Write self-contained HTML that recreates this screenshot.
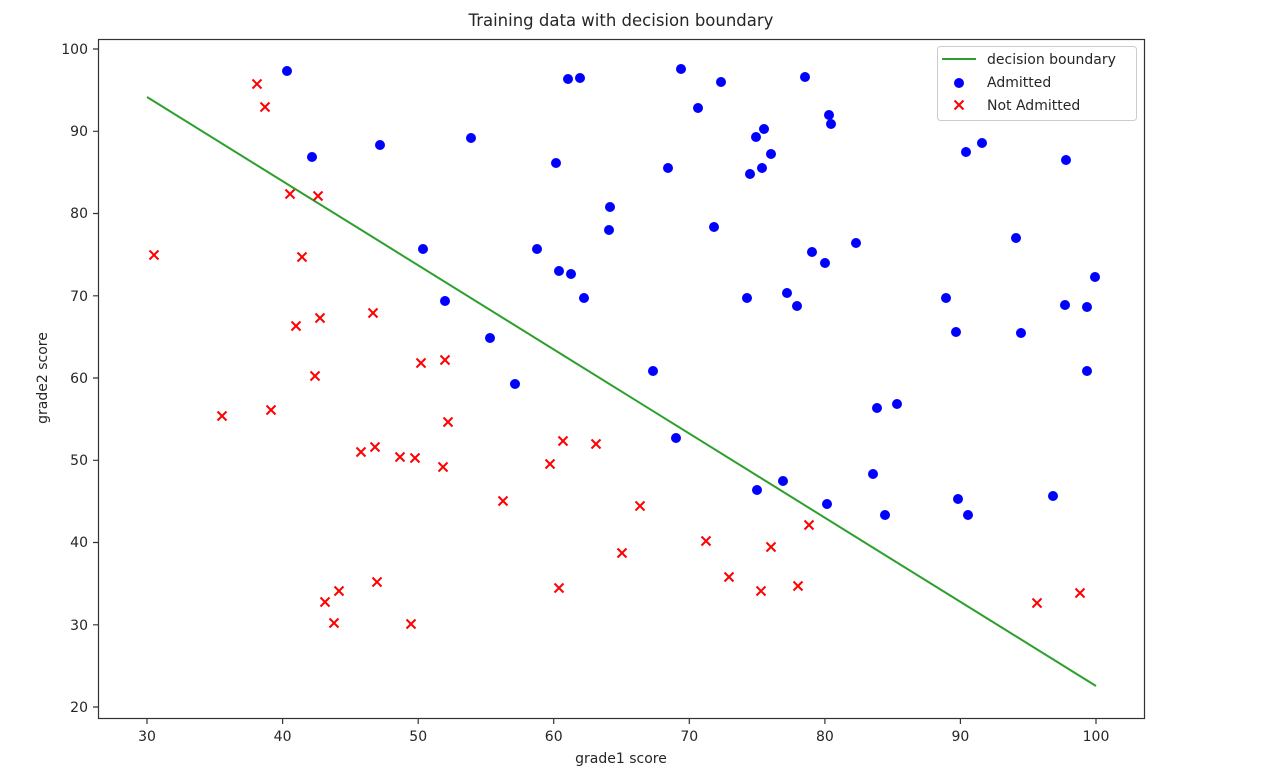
<!DOCTYPE html>
<html><head><meta charset="utf-8"><style>html,body{margin:0;padding:0;background:#fff}svg{display:block}</style></head>
<body>
<svg width="1276" height="773" xmlns="http://www.w3.org/2000/svg" font-family="'DejaVu Sans','Liberation Sans',sans-serif" font-size="14" fill="#262626">
<defs>
<g id="x"><path d="M-4.5,-4.5L4.5,4.5M-4.5,4.5L4.5,-4.5" stroke="#ff0000" stroke-width="2"/></g>
</defs>
<text x="621" y="26" text-anchor="middle" font-size="16.5">Training data with decision boundary</text>
<rect x="98.5" y="39.5" width="1046" height="679" fill="none" stroke="#333" stroke-width="1.2"/>
<g stroke="#333" stroke-width="1.2">
<path d="M147,719v5M282.6,719v5M418.2,719v5M553.7,719v5M689.3,719v5M824.9,719v5M960.4,719v5M1096,719v5"/>
<path d="M98,707h-5M98,624.8h-5M98,542.5h-5M98,460.3h-5M98,378h-5M98,295.8h-5M98,213.5h-5M98,131.3h-5M98,49h-5"/>
</g>
<g text-anchor="middle" font-size="14">
<text x="147" y="741">30</text><text x="282.6" y="741">40</text><text x="418.2" y="741">50</text><text x="553.7" y="741">60</text><text x="689.3" y="741">70</text><text x="824.9" y="741">80</text><text x="960.4" y="741">90</text><text x="1096" y="741">100</text>
</g>
<g text-anchor="end" font-size="14">
<text x="88" y="712">20</text><text x="88" y="630">30</text><text x="88" y="547">40</text><text x="88" y="465">50</text><text x="88" y="383">60</text><text x="88" y="301">70</text><text x="88" y="218">80</text><text x="88" y="136">90</text><text x="88" y="54">100</text>
</g>
<text x="621" y="763" text-anchor="middle">grade1 score</text>
<text transform="translate(47,378) rotate(-90)" text-anchor="middle">grade2 score</text>
<path d="M147,97L1096,686" stroke="#2ca02c" stroke-width="2" fill="none"/>
<g fill="#0000ff">
<circle cx="287" cy="71" r="5"/><circle cx="312" cy="157" r="5"/><circle cx="380" cy="145" r="5"/><circle cx="471" cy="138" r="5"/><circle cx="423" cy="249" r="5"/><circle cx="445" cy="301" r="5"/><circle cx="490" cy="338" r="5"/><circle cx="515" cy="384" r="5"/><circle cx="556" cy="163" r="5"/><circle cx="568" cy="79" r="5"/><circle cx="580" cy="78" r="5"/><circle cx="537" cy="249" r="5"/><circle cx="559" cy="271" r="5"/><circle cx="571" cy="274" r="5"/><circle cx="584" cy="298" r="5"/><circle cx="610" cy="207" r="5"/><circle cx="609" cy="230" r="5"/><circle cx="653" cy="371" r="5"/><circle cx="668" cy="168" r="5"/><circle cx="681" cy="69" r="5"/><circle cx="698" cy="108" r="5"/><circle cx="721" cy="82" r="5"/><circle cx="714" cy="227" r="5"/><circle cx="676" cy="438" r="5"/><circle cx="750" cy="174" r="5"/><circle cx="756" cy="137" r="5"/><circle cx="764" cy="129" r="5"/><circle cx="762" cy="168" r="5"/><circle cx="771" cy="154" r="5"/><circle cx="805" cy="77" r="5"/><circle cx="829" cy="115" r="5"/><circle cx="831" cy="124" r="5"/><circle cx="747" cy="298" r="5"/><circle cx="787" cy="293" r="5"/><circle cx="812" cy="252" r="5"/><circle cx="797" cy="306" r="5"/><circle cx="825" cy="263" r="5"/><circle cx="856" cy="243" r="5"/><circle cx="757" cy="490" r="5"/><circle cx="783" cy="481" r="5"/><circle cx="827" cy="504" r="5"/><circle cx="873" cy="474" r="5"/><circle cx="885" cy="515" r="5"/><circle cx="877" cy="408" r="5"/><circle cx="897" cy="404" r="5"/><circle cx="946" cy="298" r="5"/><circle cx="956" cy="332" r="5"/><circle cx="966" cy="152" r="5"/><circle cx="982" cy="143" r="5"/><circle cx="1066" cy="160" r="5"/><circle cx="1016" cy="238" r="5"/><circle cx="1021" cy="333" r="5"/><circle cx="1065" cy="305" r="5"/><circle cx="1095" cy="277" r="5"/><circle cx="1087" cy="307" r="5"/><circle cx="1087" cy="371" r="5"/><circle cx="958" cy="499" r="5"/><circle cx="968" cy="515" r="5"/><circle cx="1053" cy="496" r="5"/>
</g>
<g>
<use href="#x" x="257" y="84"/><use href="#x" x="265" y="107"/><use href="#x" x="290" y="194"/><use href="#x" x="318" y="196"/><use href="#x" x="154" y="255"/><use href="#x" x="302" y="257"/><use href="#x" x="296" y="326"/><use href="#x" x="320" y="318"/><use href="#x" x="315" y="376"/><use href="#x" x="222" y="416"/><use href="#x" x="271" y="410"/><use href="#x" x="373" y="313"/><use href="#x" x="421" y="363"/><use href="#x" x="445" y="360"/><use href="#x" x="448" y="422"/><use href="#x" x="361" y="452"/><use href="#x" x="375" y="447"/><use href="#x" x="400" y="457"/><use href="#x" x="415" y="458"/><use href="#x" x="443" y="467"/><use href="#x" x="503" y="501"/><use href="#x" x="550" y="464"/><use href="#x" x="563" y="441"/><use href="#x" x="596" y="444"/><use href="#x" x="640" y="506"/><use href="#x" x="622" y="553"/><use href="#x" x="559" y="588"/><use href="#x" x="706" y="541"/><use href="#x" x="729" y="577"/><use href="#x" x="761" y="591"/><use href="#x" x="771" y="547"/><use href="#x" x="798" y="586"/><use href="#x" x="809" y="525"/><use href="#x" x="1037" y="603"/><use href="#x" x="1080" y="593"/><use href="#x" x="325" y="602"/><use href="#x" x="339" y="591"/><use href="#x" x="334" y="623"/><use href="#x" x="377" y="582"/><use href="#x" x="411" y="624"/>
</g>
<rect x="937.5" y="46.5" width="199" height="74" rx="3" fill="#fff" stroke="#ccc" stroke-width="1"/>
<path d="M942,59h34" stroke="#2ca02c" stroke-width="2"/>
<circle cx="959" cy="83" r="5" fill="#0000ff"/>
<use href="#x" x="959" y="105"/>
<text x="987" y="64">decision boundary</text>
<text x="987" y="87">Admitted</text>
<text x="987" y="110">Not Admitted</text>
</svg>
</body></html>
